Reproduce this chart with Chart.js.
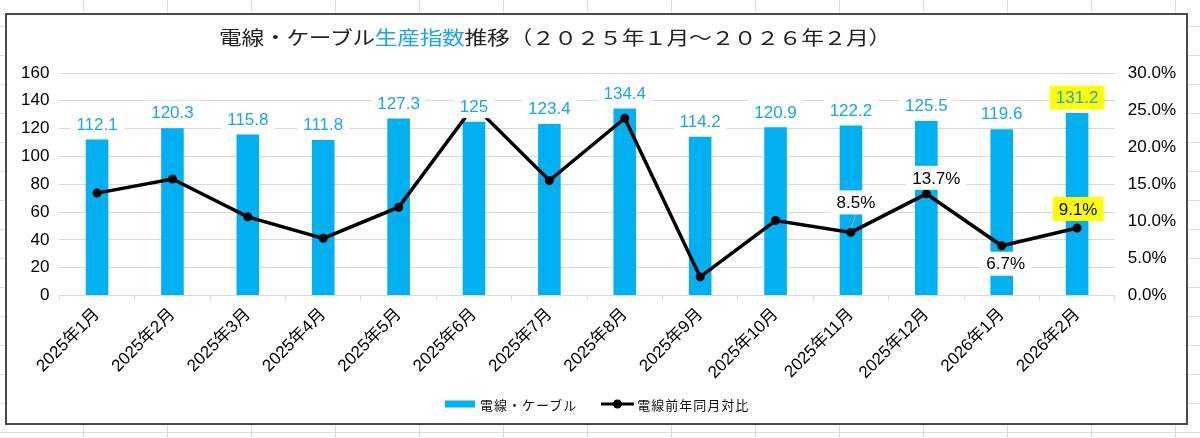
<!DOCTYPE html>
<html lang="ja">
<head>
<meta charset="utf-8">
<title>電線・ケーブル生産指数推移</title>
<script src="https://cdn.jsdelivr.net/npm/chart.js@4.4.1/dist/chart.umd.min.js"></script>
<style>
  html, body { margin: 0; padding: 0; }
  body {
    width: 1200px;
    height: 438px;
    overflow: hidden;
    position: relative;
    background-color: #fff;
    background-image:
      linear-gradient(to right, #dcdcdc 1px, transparent 1px),
      linear-gradient(to bottom, #dcdcdc 1px, transparent 1px);
    background-size: 84px 29px;
    background-position: -1px 26px;
    font-family: "Liberation Sans", "Noto Sans CJK JP", sans-serif;
  }
  #frame {
    position: absolute;
    left: 5px;
    top: 13px;
    width: 1179px;
    height: 408px;
    border: 2px solid #4a4a4a;
    background: #fff;
  }
  #chart { position: absolute; left: 0; top: 0; }
  #title {
    position: absolute;
    left: 548px;
    top: 21px;
    transform: translate(-50%, -50%) scaleX(1.2);
    white-space: nowrap;
    font-family: "Noto Sans CJK JP", sans-serif;
    font-size: 19px;
    letter-spacing: -0.3px;
    color: #222;
  }
  #title .hl { color: #1fa6e2; }
  #legend {
    position: absolute;
    left: 438px;
    top: 389px;
    transform: translateY(-50%);
    display: flex;
    align-items: center;
    white-space: nowrap;
    font-family: "Noto Sans CJK JP", sans-serif;
    font-size: 13px;
    letter-spacing: 1px;
    color: #111;
  }
  .swatch-bar { width: 30px; height: 7px; background: #00B0F0; margin-right: 5px; }
  .swatch-line { position: relative; width: 33px; height: 3px; background: #000; margin: 0 3px 0 24px; }
  .swatch-line::after {
    content: ""; position: absolute; left: 12px; top: -3px;
    width: 9px; height: 9px; border-radius: 50%; background: #000;
  }
</style>
</head>
<body>
<div id="frame">
  <canvas id="chart" width="1179" height="408"></canvas>
  <div id="title">電線・ケーブル<span class="hl">生産指数</span>推移（２０２５年１月～２０２６年２月）</div>
  <div id="legend">
    <span class="swatch-bar"></span><span>電線・ケーブル</span>
    <span class="swatch-line"></span><span>電線前年同月対比</span>
  </div>
</div>
<script>
// 月
const months = [
  '2025年1月', '2025年2月', '2025年3月', '2025年4月', '2025年5月', '2025年6月', '2025年7月',
  '2025年8月', '2025年9月', '2025年10月', '2025年11月', '2025年12月', '2026年1月', '2026年2月'
];

// 電線・ケーブル生産指数
const cableIndex = [112.1, 120.3, 115.8, 111.8, 127.3, 125, 123.4, 134.4, 114.2, 120.9, 122.2, 125.5, 119.6, 131.2];

// 電線前年同月対比 (%)
const yoyRate = [13.8, 15.7, 10.6, 7.7, 11.9, 25.6, 15.5, 23.9, 2.5, 10.1, 8.5, 13.7, 6.7, 9.1];

// 軸の目盛り
const indexTicks = [0, 20, 40, 60, 80, 100, 120, 140, 160];
const rateTicks = [0, 5, 10, 15, 20, 25, 30];

const BAR_BLUE = '#00B0F0';
const LABEL_BLUE = '#1aa6e4';
const GRID = '#d9d9d9';
const FONT = '"Liberation Sans", "Noto Sans CJK JP", sans-serif';

// draws a text tag with a filled box behind it
function drawTag(ctx, text, x, y, bg, color) {
  const w = ctx.measureText(text).width + 12;
  const h = 24;
  ctx.fillStyle = bg;
  ctx.fillRect(x - w / 2, y - h / 2, w, h);
  ctx.fillStyle = color;
  ctx.fillText(text, x, y + 1);
}

const valueLabels = {
  id: 'valueLabels',
  afterDatasetsDraw(chart, args, opts) {
    const ctx = chart.ctx;
    ctx.save();
    ctx.font = '17px ' + FONT;
    ctx.textAlign = 'center';
    ctx.textBaseline = 'middle';

    const last = cableIndex.length - 1;

    // line labels (only the recent months)
    const points = chart.getDatasetMeta(1).data;
    Object.keys(opts.lineLabels).forEach(k => {
      const i = Number(k);
      const p = points[i];
      const pos = opts.lineLabels[k];
      const lx = p.x + pos.dx;
      const ly = p.y + pos.dy;
      if (pos.leader) {
        ctx.strokeStyle = '#a6a6a6';
        ctx.lineWidth = 1;
        ctx.beginPath();
        ctx.moveTo(lx, ly + 12);
        ctx.lineTo(p.x, p.y - 4);
        ctx.stroke();
      }
      drawTag(ctx, yoyRate[i].toFixed(1) + '%', lx, ly, i === last ? '#ffff00' : '#fff', '#000');
    });

    // bar labels
    const bars = chart.getDatasetMeta(0).data;
    bars.forEach((bar, i) => {
      drawTag(ctx, String(cableIndex[i]), bar.x, bar.y - 15.5, i === last ? '#ffff00' : '#fff', LABEL_BLUE);
    });

    ctx.restore();
  }
};

new Chart(document.getElementById('chart').getContext('2d'), {
  type: 'bar',
  data: {
    labels: months,
    datasets: [
      {
        label: '電線・ケーブル',
        data: cableIndex,
        yAxisID: 'y',
        backgroundColor: BAR_BLUE,
        barPercentage: 0.3,
        categoryPercentage: 1,
        order: 2
      },
      {
        type: 'line',
        label: '電線前年同月対比',
        data: yoyRate,
        yAxisID: 'y1',
        borderColor: '#000',
        borderWidth: 3.5,
        pointRadius: 4.5,
        pointBackgroundColor: '#000',
        pointBorderWidth: 0,
        tension: 0,
        clip: false,
        order: 1
      }
    ]
  },
  options: {
    responsive: false,
    animation: false,
    layout: {
      padding: { top: 58, left: 4, right: -3, bottom: 36 }
    },
    plugins: {
      legend: { display: false },
      title: { display: false },
      tooltip: { enabled: false },
      valueLabels: {
        lineLabels: {
          10: { dx: 5, dy: -30, leader: true },
          11: { dx: 10, dy: -16 },
          12: { dx: 4, dy: 18 },
          13: { dx: 1, dy: -19 }
        }
      }
    },
    scales: {
      x: {
        grid: {
          offset: true,
          drawOnChartArea: false,
          drawTicks: true,
          tickLength: 5,
          color: GRID
        },
        border: { display: true, color: GRID },
        ticks: {
          color: '#000',
          minRotation: 45,
          maxRotation: 45,
          padding: 4,
          font: { size: 17, family: FONT }
        }
      },
      y: {
        position: 'left',
        min: indexTicks[0],
        max: indexTicks[indexTicks.length - 1],
        afterBuildTicks: axis => { axis.ticks = indexTicks.map(v => ({ value: v })); },
        grid: { color: GRID, drawTicks: false },
        border: { display: false },
        ticks: {
          color: '#000',
          padding: 10,
          font: { size: 17, family: FONT }
        }
      },
      y1: {
        position: 'right',
        min: rateTicks[0],
        max: rateTicks[rateTicks.length - 1],
        afterBuildTicks: axis => { axis.ticks = rateTicks.map(v => ({ value: v })); },
        grid: { drawOnChartArea: false, drawTicks: false },
        border: { display: false },
        ticks: {
          color: '#000',
          padding: 13,
          font: { size: 17, family: FONT },
          callback: v => Number(v).toFixed(1) + '%'
        }
      }
    }
  },
  plugins: [valueLabels]
});
</script>
</body>
</html>
